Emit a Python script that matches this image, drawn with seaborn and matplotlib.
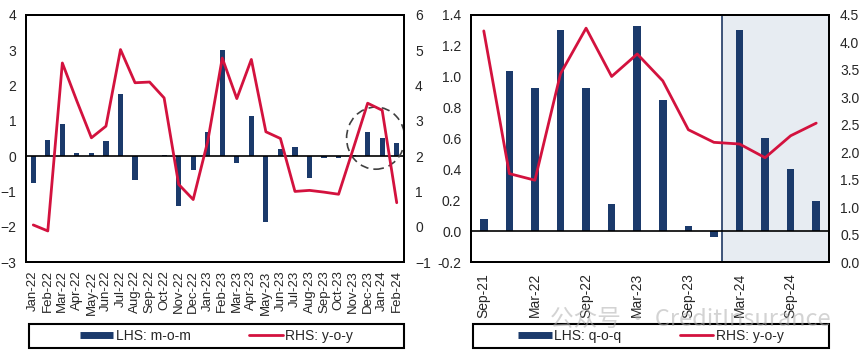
"""
Two-panel bar + line chart: monthly m-o-m (LHS) vs y-o-y (RHS),
and quarterly q-o-q (LHS) vs y-o-y (RHS) with forecast shading.
"""

import matplotlib
matplotlib.use("Agg")

import matplotlib.pyplot as plt
from matplotlib.lines import Line2D
from matplotlib.patches import Ellipse, Rectangle
import numpy as np
import pandas as pd
import seaborn as sns

# === data: monthly panel ===
months = ["Jan-22", "Feb-22", "Mar-22", "Apr-22", "May-22", "Jun-22", "Jul-22",
          "Aug-22", "Sep-22", "Oct-22", "Nov-22", "Dec-22", "Jan-23", "Feb-23",
          "Mar-23", "Apr-23", "May-23", "Jun-23", "Jul-23", "Aug-23", "Sep-23",
          "Oct-23", "Nov-23", "Dec-23", "Jan-24", "Feb-24"]
mom = [-0.75, 0.47, 0.90, 0.08, 0.08, 0.42, 1.75, -0.68, 0.0, 0.04, -1.40, -0.38,
       0.68, 3.00, -0.20, 1.15, -1.87, 0.21, 0.26, -0.63, -0.05, -0.05, 0.03,
       0.68, 0.52, 0.38]
yoy_m = [0.05, -0.12, 4.64, 3.56, 2.52, 2.85, 5.02, 4.08, 4.10, 3.65, 1.20, 0.77,
         2.42, 4.78, 3.63, 4.74, 2.69, 2.50, 1.00, 1.03, 0.98, 0.92, 2.20,
         3.50, 3.30, 0.68]

# === data: quarterly panel ===
quarters = ["Sep-21", "Dec-21", "Mar-22", "Jun-22", "Sep-22", "Dec-22", "Mar-23",
            "Jun-23", "Sep-23", "Dec-23", "Mar-24", "Jun-24", "Sep-24", "Dec-24"]
qoq = [0.08, 1.04, 0.925, 1.30, 0.925, 0.177, 1.326, 0.85, 0.03, -0.035,
       1.30, 0.606, 0.40, 0.198]
yoy_q = [4.21, 1.61, 1.49, 3.43, 4.26, 3.38, 3.79, 3.30, 2.41, 2.18,
         2.15, 1.90, 2.30, 2.53]
forecast_start = 9.3  # shaded block begins after Dec-23

NAVY = "#1B3A6B"
RED = "#D3123E"
SHADE = "#E7ECF2"

sns.set_style("white")
plt.rcParams["font.family"] = ["Liberation Sans", "DejaVu Sans"]
plt.rcParams["font.size"] = 9


def style_axes(ax, ax2):
    for a in (ax, ax2):
        for sp in a.spines.values():
            sp.set_color("black")
            sp.set_linewidth(1.4)
        a.set_xlabel("")
        a.set_ylabel("")
    ax.tick_params(axis="both", length=0)
    ax2.tick_params(axis="y", length=0, pad=8, labelsize=10)
    ax.tick_params(axis="y", pad=7, labelsize=10)


def draw_legend(fig, ax, box, labels):
    handles = [Line2D([], [], color=NAVY, lw=5, solid_capstyle="butt"),
               Line2D([], [], color=RED, lw=2)]
    x0, y0, w, h = box
    fig.patches.append(Rectangle((x0, y0), w, h, transform=fig.transFigure,
                                 fill=False, edgecolor="black", lw=1.5))
    ax.legend(handles, labels, loc="center", ncol=2, frameon=False,
              bbox_to_anchor=(x0 + w / 2, y0 + h / 2), bbox_transform=fig.transFigure,
              handlelength=2.4, handletextpad=0.2, columnspacing=4.2, fontsize=10)


def main() -> None:
    fig = plt.figure(figsize=(8.65, 3.57), dpi=100)

    # === left panel: monthly ===
    df_m = pd.DataFrame({"pos": np.arange(len(months)), "mom": mom, "yoy": yoy_m})
    ax = fig.add_axes([26 / 865, 1 - 262 / 357, 378 / 865, 247 / 357])
    sns.barplot(data=df_m, x="pos", y="mom", native_scale=True, color=NAVY,
                width=0.35, saturation=1, linewidth=0, errorbar=None, ax=ax)
    ax.axhline(0, color="black", lw=1.2, zorder=3)
    ax.set_xlim(-0.5, len(months) - 0.5)
    ax.set_ylim(-3, 4)
    ax.set_yticks(range(-3, 5))
    ax.set_xticks(df_m["pos"])
    ax.set_xticklabels(months, rotation=90, fontsize=9.5)
    ax.tick_params(axis="x", pad=6)
    ax.add_patch(Ellipse((23.55, 0.51), 4.0, 1.76, fill=False, edgecolor="#404040",
                         lw=1.2, ls=(0, (5, 3)), zorder=5))

    ax2 = ax.twinx()
    sns.lineplot(data=df_m, x="pos", y="yoy", color=RED, lw=2, ax=ax2)
    ax2.set_ylim(-1, 6)
    ax2.set_yticks(range(-1, 7))
    style_axes(ax, ax2)
    draw_legend(fig, ax2, (29 / 865, 1 - 348 / 357, 375 / 865, 24 / 357),
                ["LHS: m-o-m", "RHS: y-o-y"])

    # === right panel: quarterly ===
    df_q = pd.DataFrame({"pos": np.arange(len(quarters)), "qoq": qoq, "yoy": yoy_q})
    bx = fig.add_axes([471 / 865, 1 - 262 / 357, 358 / 865, 247 / 357])
    bx.axvspan(forecast_start, len(quarters) - 0.5, facecolor=SHADE,
               edgecolor="#1F3864", lw=1.2, zorder=0)
    sns.barplot(data=df_q, x="pos", y="qoq", native_scale=True, color=NAVY,
                width=0.3, saturation=1, linewidth=0, errorbar=None, ax=bx)
    bx.axhline(0, color="black", lw=1.2, zorder=3)
    bx.set_xlim(-0.5, len(quarters) - 0.5)
    bx.set_ylim(-0.2, 1.4)
    bx.set_yticks(np.arange(-0.2, 1.41, 0.2))
    bx.set_yticklabels([f"{v:.1f}" for v in np.arange(-0.2, 1.41, 0.2)])
    bx.set_xticks(df_q["pos"][::2])
    bx.set_xticklabels(quarters[::2], rotation=90, fontsize=10)
    bx.tick_params(axis="x", pad=8)

    bx2 = bx.twinx()
    sns.lineplot(data=df_q, x="pos", y="yoy", color=RED, lw=2, ax=bx2)
    bx2.set_ylim(0, 4.5)
    bx2.set_yticks(np.arange(0, 4.51, 0.5))
    bx2.set_yticklabels([f"{v:.1f}" for v in np.arange(0, 4.51, 0.5)])
    style_axes(bx, bx2)
    draw_legend(fig, bx2, (473 / 865, 1 - 348 / 357, 356 / 865, 24 / 357),
                ["LHS: q-o-q", "RHS: y-o-y"])

    # watermark
    fig.text(550 / 865, 1 - 320 / 357, "公众号 · CreditInsurance", color="#B0B0B0",
             alpha=0.55, fontsize=17, va="center", ha="left",
             family=["Noto Sans CJK SC", "DejaVu Sans"], zorder=10)

    fig.savefig("out.png", dpi=100)


if __name__ == "__main__":
    main()
